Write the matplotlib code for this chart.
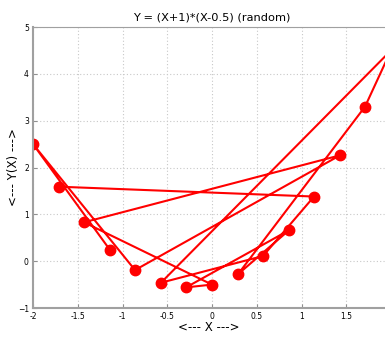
import matplotlib
matplotlib.use("Agg")
import matplotlib.pyplot as plt

# points in the order they are connected
x_vals = [-1.14, -2.0, -0.86, 1.43, -1.43, 0.0, -0.29, 0.86, 0.29, 1.71, 2.0, -0.57, 0.57, 1.14, -1.71]
y_vals = [0.24, 2.5, -0.19, 2.26, 0.83, -0.5, -0.56, 0.66, -0.28, 3.30, 4.5, -0.46, 0.11, 1.38, 1.59]
x_ticks = [-2, -1.5, -1, -0.5, 0, 0.5, 1, 1.5]
y_ticks = [-1, 0, 1, 2, 3, 4, 5]

fig = plt.figure(figsize=(3.85, 3.37), dpi=100)
ax = fig.add_axes([33/385, 29/337, 358/385, 281/337])
ax.plot(x_vals, y_vals, color="#ff0000", lw=1.5, marker="o", markersize=7.5, clip_on=True)
ax.set_xlim(-2, 2)
ax.set_ylim(-1, 5)
ax.set_xticks(x_ticks)
ax.set_xticklabels([f"{t:g}" for t in x_ticks])
ax.set_yticks(y_ticks)
ax.grid(True, linestyle=(0, (1, 2)), color="#c8c8c8", lw=0.8)
for s in ax.spines.values():
    s.set_color("#a0a0a0")
ax.spines["left"].set_linewidth(1.5)
ax.spines["bottom"].set_linewidth(1.5)
ax.spines["top"].set_linewidth(0.8)
ax.tick_params(direction="in", length=3, width=0.8, color="#909090",
               labelsize=5.5, pad=3, top=False, right=False)
ax.set_title("Y = (X+1)*(X-0.5) (random)", fontsize=8.2, pad=5)
ax.set_xlabel("<--- X --->", fontsize=8.5)
ax.set_ylabel("<--- Y(X) --->", fontsize=8.5)
ax.xaxis.set_label_coords(0.49, -0.045)
ax.yaxis.set_label_coords(-0.036, 0.5)
fig.savefig("out.png", dpi=100)
